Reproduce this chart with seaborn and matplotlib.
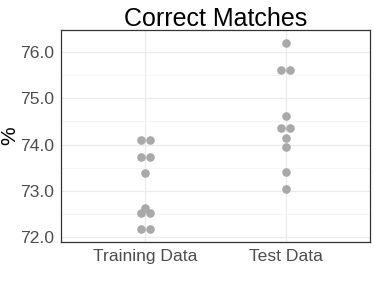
import numpy as np
import pandas as pd
import matplotlib
import matplotlib.pyplot as plt
import seaborn as sns
from matplotlib.ticker import MultipleLocator

matplotlib.use('Agg')

# values
groups = ["Training Data", "Test Data"]
training = [74.10, 74.10, 73.72, 73.72, 73.38, 72.64, 72.52, 72.52, 72.17, 72.17]
test = [76.19, 75.60, 75.60, 74.61, 74.35, 74.35, 74.14, 73.95, 73.41, 73.03]
yticks = [72.0, 73.0, 74.0, 75.0, 76.0]

df = pd.DataFrame({
	"group": [groups[0]] * len(training) + [groups[1]] * len(test),
	"value": training + test,
})

sns.set_theme(style="white")
plt.rcParams['font.family'] = ['Liberation Sans', 'DejaVu Sans']

fig = plt.figure(figsize=(3.74, 2.85), dpi=100)
ax = fig.add_axes([0.1623, 0.1498, 0.8270, 0.7449])

sns.swarmplot(data=df, x="group", y="value", order=groups, color="#A9A9A9",
			  size=6.2, linewidth=0, ax=ax, zorder=3)

ax.set_xlim(-0.6, 1.6)
ax.set_ylim(71.89, 76.47)
ax.set_yticks(yticks)
ax.set_yticklabels([f"{v:.1f}" for v in yticks])
ax.yaxis.set_minor_locator(MultipleLocator(0.5))

# center each row of the swarm on its category (beeswarm "center" look)
fig.canvas.draw()
for coll in ax.collections:
	if "draw" in coll.__dict__:
		del coll.draw
	off = np.array(coll.get_offsets())
	if len(off) == 0:
		continue
	rows = np.round(off[:, 1], 3)
	for r in np.unique(rows):
		m = rows == r
		cx = np.round(off[m, 0].mean())
		off[m, 0] += cx - off[m, 0].mean()
	coll.set_offsets(off)

# grid like ggplot theme_bw
ax.grid(True, which="major", axis="both", color="#EBEBEB", lw=0.9, zorder=0)
ax.grid(True, which="minor", axis="y", color="#F2F2F2", lw=0.5, zorder=0)
ax.set_axisbelow(True)

for s in ax.spines.values():
	s.set_color("#333333")
	s.set_linewidth(0.9)

ax.tick_params(axis="both", which="major", length=3, width=0.8, color="#333333",
			   labelsize=12.6, labelcolor="#4D4D4D", pad=1.5)
ax.tick_params(axis="y", which="minor", length=0)

ax.set_xlabel("")
ax.set_ylabel("%", fontsize=15, color="black")
ax.yaxis.set_label_coords(-0.135, 0.5)
ax.set_title("Correct Matches", fontsize=18, color="black", pad=3)

fig.savefig("out.png", dpi=100)
